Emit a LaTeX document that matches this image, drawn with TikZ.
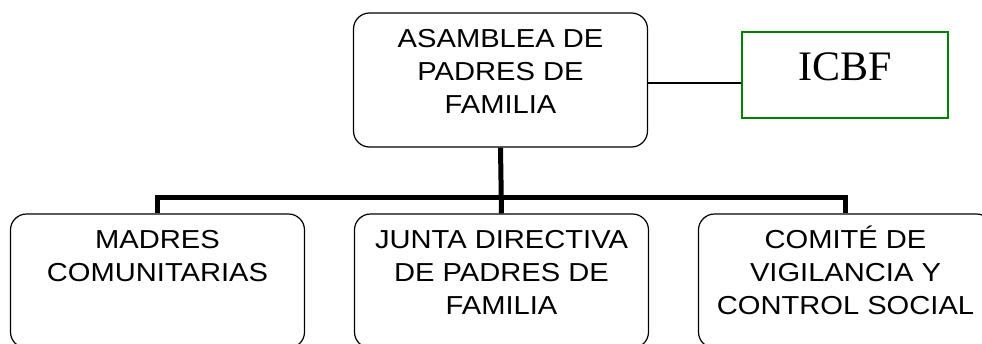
\documentclass[tikz,border=0pt]{standalone}
\usepackage{fontspec}
\setmainfont{Liberation Serif}
\newfontfamily\arialfont[FakeStretch=1.12]{Liberation Sans}

% text of a rounded box, set from the top
\newcommand{\textocaja}[1]{\parbox[c][134pt][t]{294pt}{\centering\rule{0pt}{34pt}#1}}

\tikzset{
  caja/.style={draw, rounded corners=16pt, line width=1.2pt, inner sep=0pt,
    font=\arialfont\fontsize{26}{33}\selectfont},
  icbfcaja/.style={draw=green!50!black, line width=1.2pt, minimum width=206pt,
    minimum height=86pt, inner sep=0pt, text depth=16pt,
    font=\fontsize{42}{46}\selectfont},
  barra/.style={line width=5pt},
  enlace/.style={line width=1.2pt}
}

\begin{document}
\begin{tikzpicture}[x=1pt, y=-1pt]
			\clip (0,0) rectangle (982,343);
			
			% top box and ICBF
			\node[caja] (asamblea) at (500.5,80) {\textocaja{ASAMBLEA DE\\PADRES DE\\FAMILIA}};
			\node[icbfcaja] (icbf) at (845,75) {ICBF};
			
			% bottom boxes
			\node[caja] (madres) at (157.5,281) {\textocaja{MADRES\\COMUNITARIAS}};
			\node[caja] (junta) at (501.5,281) {\textocaja{JUNTA DIRECTIVA\\DE PADRES DE\\FAMILIA}};
			\node[caja] (comite) at (845.5,281) {\textocaja{COMITÉ DE\\VIGILANCIA Y\\CONTROL SOCIAL}};
			
			% connectors
			\coordinate (bus) at (0,197);
			\draw[enlace] ([yshift=-3pt]asamblea.east) -- ([yshift=-3pt]asamblea.east -| icbf.west);
			\draw[barra] (asamblea.south) -- (junta.north);
			\draw[barra] (madres.north) |- (bus -| comite.north) -- (comite.north);
		\end{tikzpicture}
\end{document}
